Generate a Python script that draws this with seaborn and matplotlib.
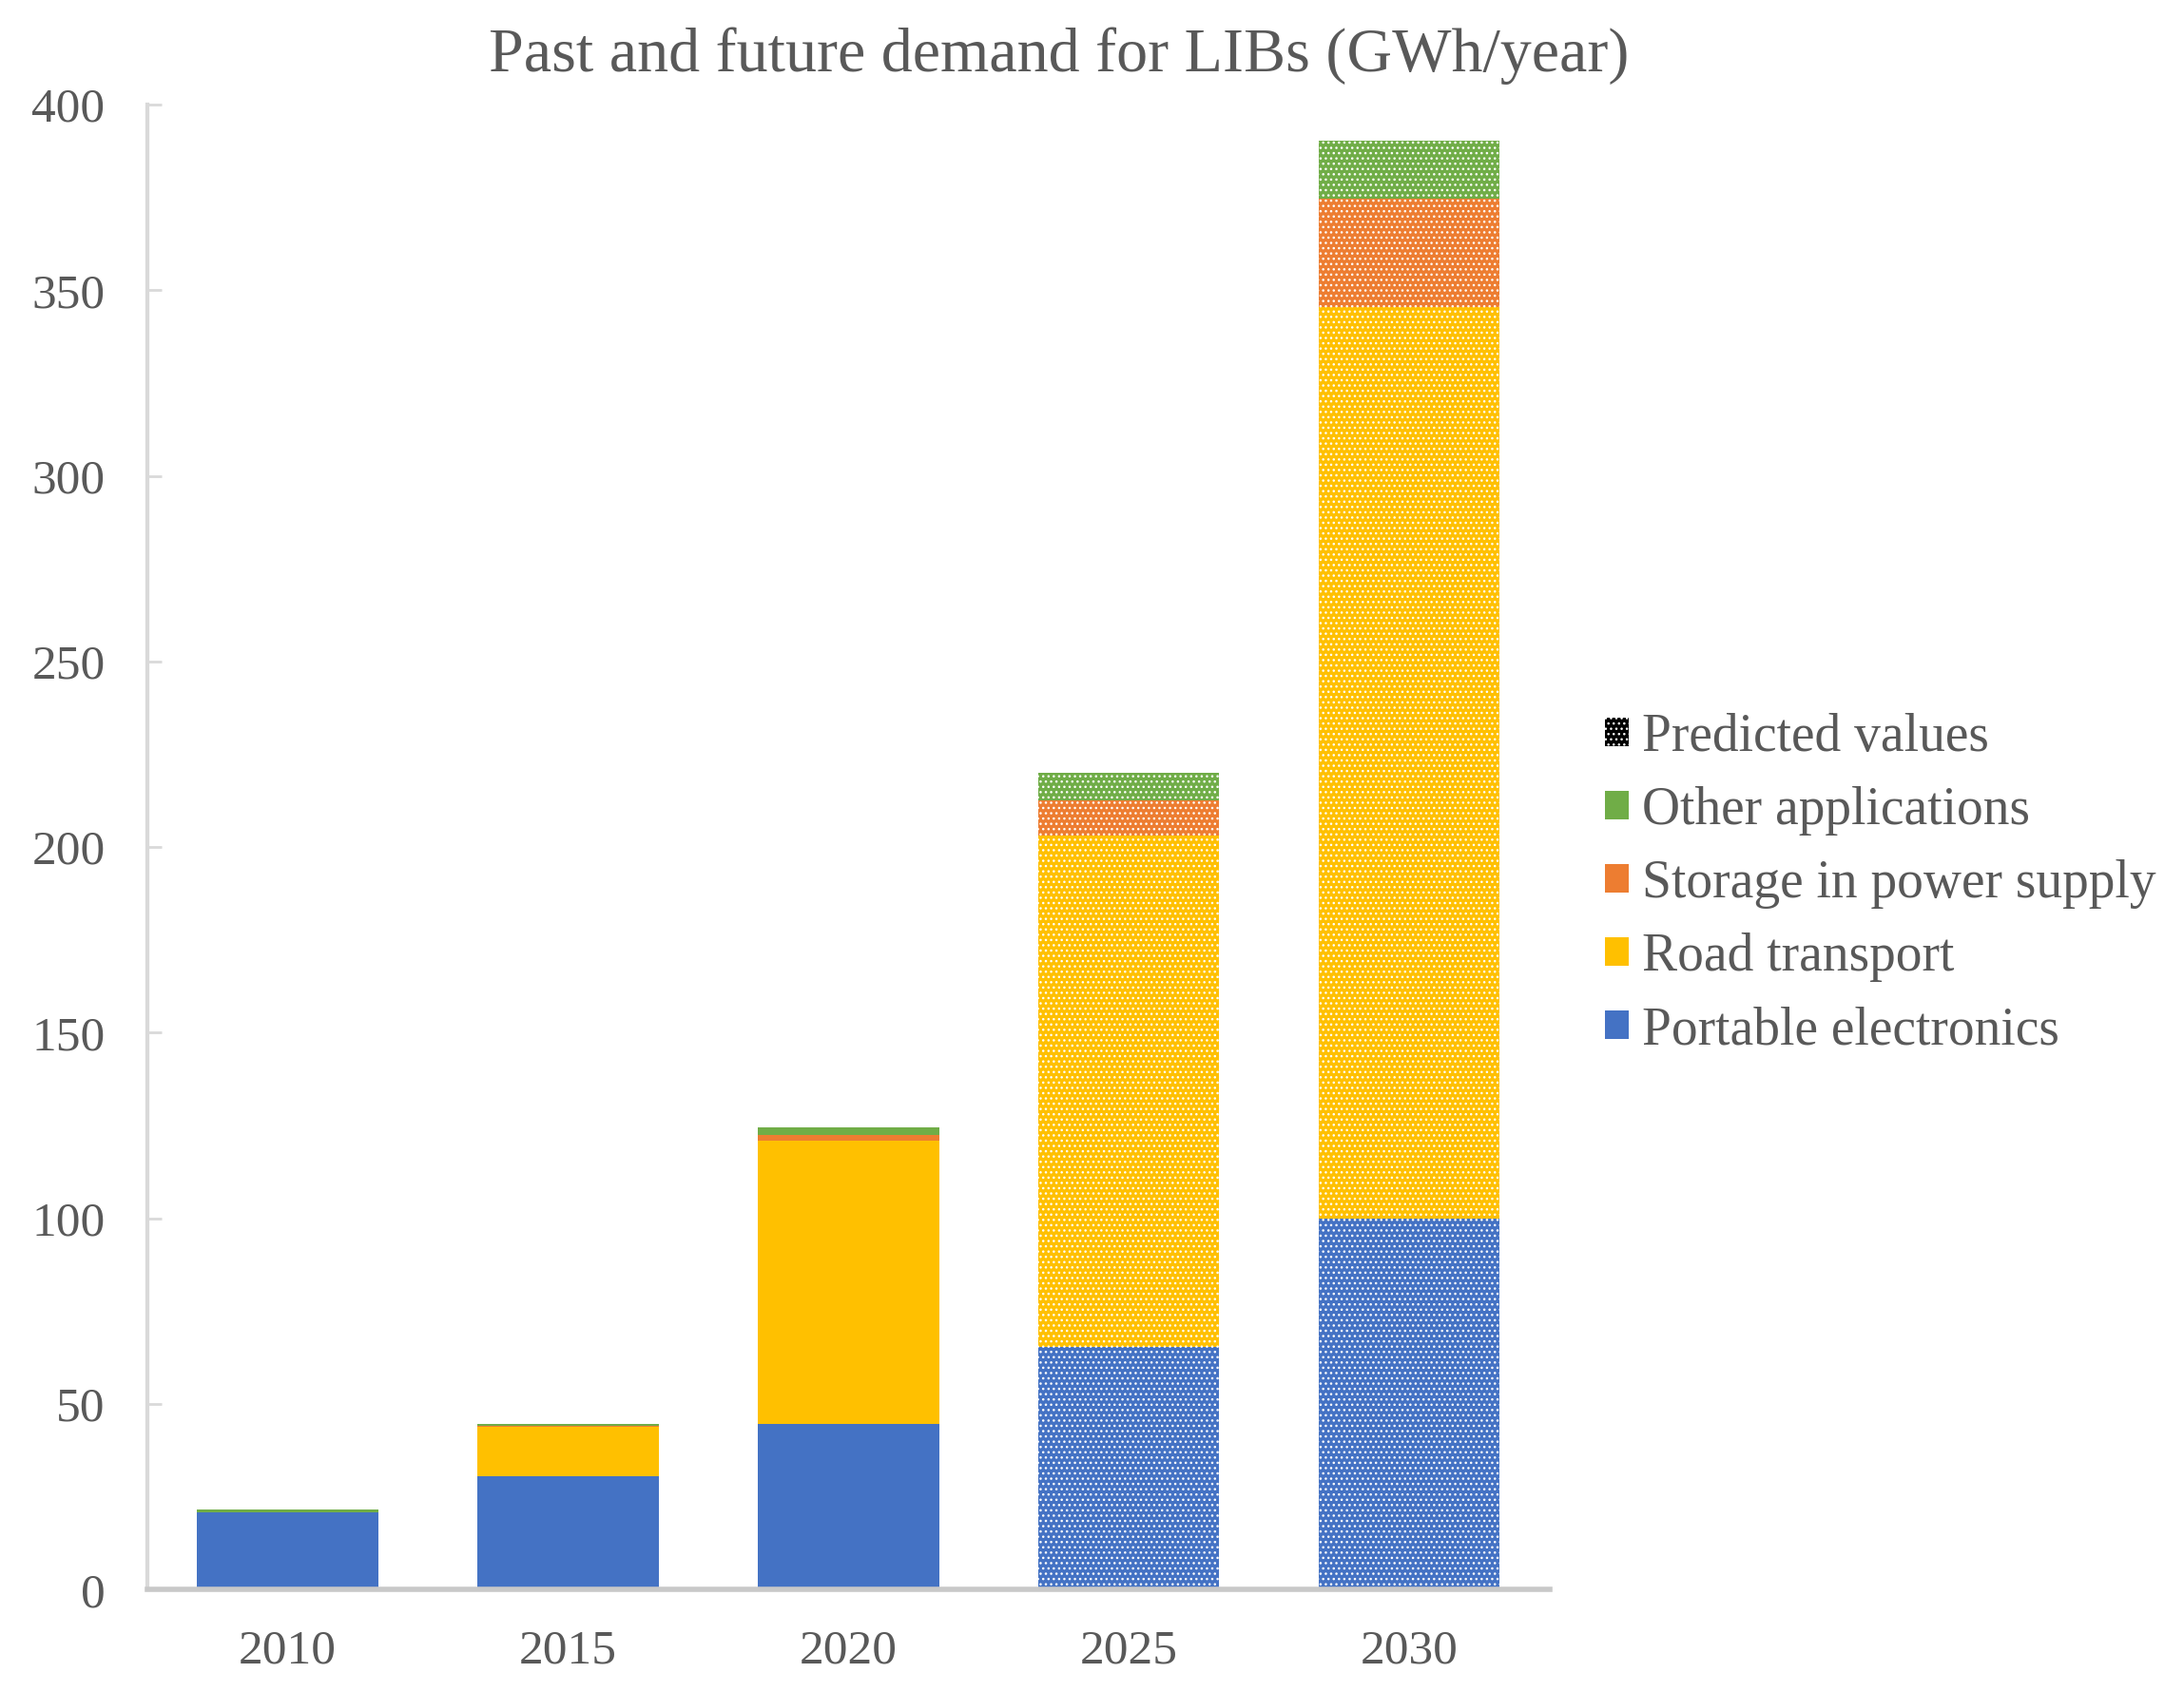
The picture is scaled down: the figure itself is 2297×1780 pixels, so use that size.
import numpy as np
import matplotlib
matplotlib.use("Agg")
import matplotlib.pyplot as plt
import seaborn as sns
from matplotlib.patches import Patch

years = ["2010", "2015", "2020", "2025", "2030"]
predicted = [False, False, False, True, True]

portable = [20.7, 30.5, 44.6, 65.3, 100.0]
road = [0.0, 13.3, 76.3, 137.7, 245.4]
storage = [0.0, 0.2, 1.5, 9.5, 29.2]
other = [0.8, 0.6, 2.1, 7.5, 15.7]

series_names = ["Portable electronics", "Road transport", "Storage in power supply", "Other applications"]
series_values = [portable, road, storage, other]
series_colors = ["#4472C4", "#FFC000", "#ED7D31", "#70AD47"]

sns.set_theme(style="white")
plt.rcParams["font.family"] = ["Liberation Serif", "DejaVu Serif"]
plt.rcParams["hatch.linewidth"] = 1.0

text_grey = "#595959"

fig = plt.figure(figsize=(22.97, 17.8), dpi=100)
ax = fig.add_axes([0.0675, 0.0605, 0.642, 0.8777])

bottom = np.zeros(len(years))
for name, vals, col in zip(series_names, series_values, series_colors):
    vals = np.array(vals)
    sns.barplot(x=years, y=vals, bottom=bottom, color=col, width=0.645,
                errorbar=None, saturation=1, linewidth=0, ax=ax)
    bottom = bottom + vals

# dotted pattern on the predicted years
for p in ax.patches:
    idx = int(round(p.get_x() + p.get_width() / 2))
    if predicted[idx]:
        p.set_hatch("...")
        p.set_edgecolor("white")
        p.set_linewidth(0)

ax.set_xlim(-0.5, 4.5)
ax.set_ylim(0, 400)
ax.set_yticks(np.arange(0, 401, 50))
ax.set_xlabel("")
ax.set_ylabel("")

for s in ["top", "right"]:
    ax.spines[s].set_visible(False)
ax.spines["left"].set_color("#D9D9D9")
ax.spines["left"].set_linewidth(3)
ax.spines["bottom"].set_color("#C8C8C8")
ax.spines["bottom"].set_linewidth(4)

ax.tick_params(axis="y", direction="in", length=11, width=2, color="#D9D9D9",
               pad=32, labelsize=37, labelcolor=text_grey, left=True)
ax.tick_params(axis="x", length=0, pad=30, labelsize=37, labelcolor=text_grey)

fig.suptitle("Past and future demand for LIBs (GWh/year)", x=0.485, y=0.984,
             va="top", fontsize=47.5, color=text_grey)

handles = [Patch(facecolor="black", edgecolor="white", hatch="...", linewidth=0,
                 label="Predicted values")]
for name, col in reversed(list(zip(series_names, series_colors))):
    handles.append(Patch(facecolor=col, edgecolor=col, linewidth=0, label=name))

leg = fig.legend(handles=handles, loc="center left", bbox_to_anchor=(0.735, 0.4775),
                 frameon=False, fontsize=40, handlelength=0.45, handleheight=0.45,
                 handletextpad=0.25, labelspacing=0.45, borderpad=0, borderaxespad=0)
for t in leg.get_texts():
    t.set_color(text_grey)

fig.savefig("out.png", dpi=100)
